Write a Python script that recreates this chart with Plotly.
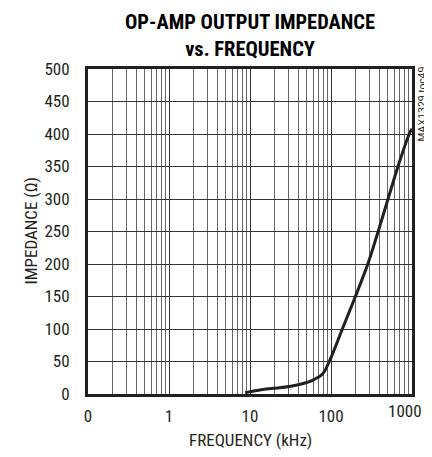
import plotly.graph_objects as go

freq_khz = [8.7, 10, 14.5, 23, 37, 59, 79, 100, 138, 200, 285, 382, 506, 671, 924, 1000]
impedance = [2, 3.5, 7, 9.5, 13.5, 21, 31, 56, 100, 150, 200, 250, 300, 350, 400, 408]

x_tickvals = [0.1, 1, 10, 100, 1000]
x_ticktext = ["0", "1", "10", "100", ""]
x_last_label = "1000"
x_minor = [m * 10 ** e for e in range(-1, 3) for m in range(2, 10)]
y_tickvals = list(range(0, 501, 50))

FONT = "Roboto Condensed, Roboto, sans-serif"
INK = "#231f20"

fig = go.Figure()
fig.add_trace(go.Scatter(
    x=freq_khz, y=impedance, mode="lines",
    line=dict(color=INK, width=3, shape="spline", smoothing=0.8),
    hoverinfo="skip", showlegend=False,
))

fig.update_layout(
    width=424, height=449,
    margin=dict(l=80, r=20, t=61, b=63),
    paper_bgcolor="white", plot_bgcolor="white",
    font=dict(family=FONT, size=17, color=INK),
    xaxis=dict(
        type="log", range=[-1, 3], automargin=False,
        tickmode="array", tickvals=x_tickvals, ticktext=x_ticktext,
        showgrid=True, gridcolor="#333", gridwidth=1,
        minor=dict(tickmode="array", tickvals=x_minor, showgrid=True,
                   gridcolor="#666", gridwidth=1, ticks=""),
        showline=True, linecolor=INK, linewidth=3, mirror=True,
        ticks="", ticklabelstandoff=5,
        zeroline=False,
    ),
    yaxis=dict(
        range=[0, 500], automargin=False,
        tickmode="array", tickvals=y_tickvals,
        showgrid=True, gridcolor="#333", gridwidth=1,
        showline=True, linecolor=INK, linewidth=3, mirror=True,
        ticks="", ticklabelstandoff=12,
        zeroline=False,
    ),
    annotations=[
        dict(text="<b>OP-AMP OUTPUT IMPEDANCE<br>vs. FREQUENCY</b>",
             xref="paper", yref="paper",
             x=0.5, y=1, xanchor="center", yanchor="top", yshift=61,
             align="center", showarrow=False,
             font=dict(family=FONT, size=20.5, color="black")),
        dict(text=x_last_label, xref="x", yref="paper",
             x=3, y=0, xanchor="center", yanchor="top", xshift=-7, yshift=-5,
             showarrow=False, font=dict(family=FONT, size=17, color=INK)),
        dict(text="FREQUENCY (kHz)", xref="paper", yref="paper",
             x=0.5, y=0, xanchor="center", yanchor="middle", yshift=-46,
             showarrow=False, font=dict(family=FONT, size=17, color=INK)),
        dict(text="IMPEDANCE (Ω)", xref="paper", yref="paper",
             x=0, y=0.5, xanchor="center", yanchor="middle", xshift=-58,
             textangle=-90, showarrow=False,
             font=dict(family=FONT, size=17, color=INK)),
        dict(text="MAX1329 toc49", xref="paper", yref="paper",
             x=1, y=1, xanchor="left", yanchor="top", xshift=1, yshift=4,
             textangle=-90, showarrow=False,
             font=dict(family="Liberation Sans, Arial, sans-serif", size=10.5, color=INK)),
    ],
)

fig.write_html("out.html")
